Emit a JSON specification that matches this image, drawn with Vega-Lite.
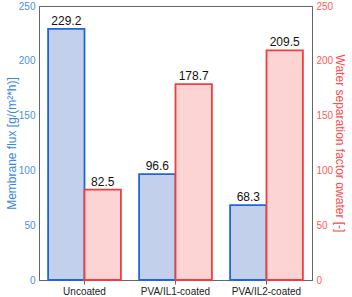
{
  "$schema": "https://vega.github.io/schema/vega-lite/v6.json",
  "width": 273,
  "height": 274,
  "autosize": {"type": "none"},
  "padding": {"left": 39, "top": 6, "right": 40, "bottom": 17},
  "config": {
    "font": "Liberation Sans",
    "view": {"stroke": "#666666", "strokeWidth": 1},
    "axis": {"grid": false, "domainColor": "#666666", "labelFont": "Liberation Sans", "titleFont": "Liberation Sans"}
  },
  "data": {
    "values": [
      {"membrane": "Uncoated", "series": "flux", "value": 229.2},
      {"membrane": "PVA/IL1-coated", "series": "flux", "value": 96.6},
      {"membrane": "PVA/IL2-coated", "series": "flux", "value": 68.3},
      {"membrane": "Uncoated", "series": "sep", "value": 82.5},
      {"membrane": "PVA/IL1-coated", "series": "sep", "value": 178.7},
      {"membrane": "PVA/IL2-coated", "series": "sep", "value": 209.5}
    ]
  },
  "encoding": {
    "x": {
      "field": "membrane",
      "type": "nominal",
      "sort": ["Uncoated", "PVA/IL1-coated", "PVA/IL2-coated"],
      "scale": {"paddingInner": 0.2, "paddingOuter": 0.1},
      "axis": {"title": null, "labelAngle": 0, "labelFontSize": 10, "labelColor": "#222222", "tickColor": "#666666", "tickSize": 4, "labelPadding": 2}
    },
    "xOffset": {"field": "series", "type": "nominal", "scale": {"domain": ["flux", "sep"], "paddingInner": 0, "paddingOuter": 0}}
  },
  "layer": [
    {
      "transform": [{"filter": "datum.series === 'flux'"}],
      "encoding": {
        "y": {
          "field": "value",
          "type": "quantitative",
          "scale": {"domain": [0, 250], "nice": false},
          "axis": {
            "orient": "left",
            "title": "Membrane flux [g/(m²*h)]",
            "values": [0, 50, 100, 150, 200, 250],
            "ticks": false,
            "labelColor": "#4a8fe6",
            "titleColor": "#3a86e4",
            "labelFontSize": 10,
            "titleFontSize": 12,
            "titleFontWeight": "normal",
            "labelPadding": 4,
            "titlePadding": 0
          }
        }
      },
      "layer": [
        {"mark": {"type": "bar", "fill": "#c2d0ec", "stroke": "#1f66d8", "strokeWidth": 1.8}},
        {"mark": {"type": "text", "baseline": "bottom", "dy": -1, "fontSize": 12, "color": "#111111"},
         "encoding": {"text": {"field": "value", "type": "quantitative", "format": ".1f"}}}
      ]
    },
    {
      "transform": [{"filter": "datum.series === 'sep'"}],
      "encoding": {
        "y": {
          "field": "value",
          "type": "quantitative",
          "scale": {"domain": [0, 250], "nice": false},
          "axis": {
            "orient": "right",
            "title": "Water separation factor αwater [-]",
            "values": [0, 50, 100, 150, 200, 250],
            "ticks": false,
            "labelColor": "#ff5a5a",
            "titleColor": "#ff4a4a",
            "labelFontSize": 10,
            "titleFontSize": 12,
            "titleFontWeight": "normal",
            "labelPadding": 4,
            "titlePadding": 0
          }
        }
      },
      "layer": [
        {"mark": {"type": "bar", "fill": "#fcd4d4", "stroke": "#f43c3c", "strokeWidth": 1.8}},
        {"mark": {"type": "text", "baseline": "bottom", "dy": -1, "fontSize": 12, "color": "#111111"},
         "encoding": {"text": {"field": "value", "type": "quantitative", "format": ".1f"}}}
      ]
    }
  ],
  "resolve": {"scale": {"y": "independent"}}
}
